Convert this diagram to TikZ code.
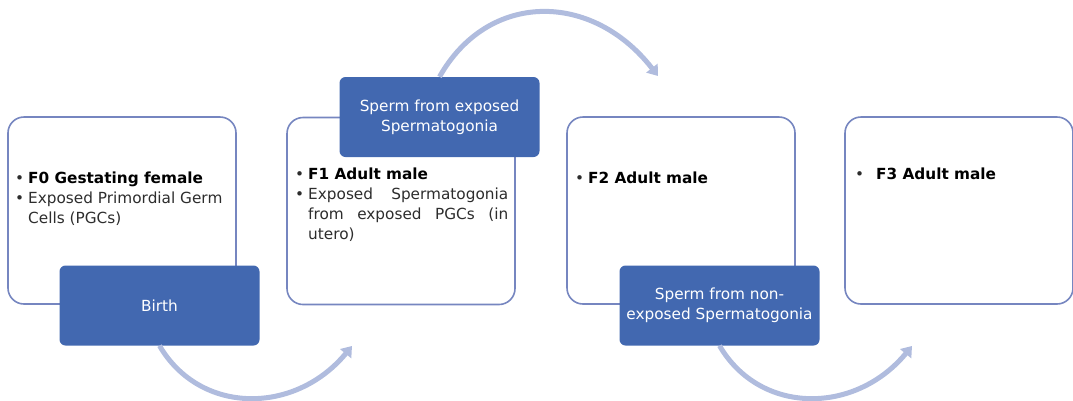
\documentclass[tikz,border=0pt]{standalone}
\usepackage{fontspec}
\setmainfont{DejaVu Sans}
\usetikzlibrary{arrows.meta,positioning}
\definecolor{boxline}{RGB}{118,134,192}
\definecolor{stepfill}{RGB}{66,104,176}
\definecolor{arcblue}{RGB}{176,188,222}
\definecolor{bodytext}{RGB}{45,45,45}
\newcommand{\bulletline}[2][13pt]{\noindent\hangindent=#1\hangafter=1\makebox[#1][l]{\textbullet}#2\par}
\tikzset{
	genbox/.style={draw=boxline, line width=1.6pt, fill=white, rounded corners=16pt,
			minimum width=228pt, minimum height=187pt, inner sep=0pt},
	eventbox/.style={fill=stepfill, rounded corners=6pt, minimum width=200pt,
			minimum height=80pt, text=white, align=center, inner sep=0pt},
	genlabel/.style={anchor=north west, inner sep=0pt, text width=#1, align=justify, text=bodytext},
	cyclearc/.style={draw=arcblue, line width=5pt, -{Triangle[width=14pt,length=10pt]}}
}
\begin{document}
\begin{tikzpicture}[x=1pt, y=-1pt, font=\fontsize{15.3}{20}\selectfont]

			\useasboundingbox (0,0) rectangle (1073,400);

			% Generation boxes
			\node[genbox] (f0) at (122,210.5) {};
			\node[genbox] (f1) at (401,211) {};
			\node[genbox] (f2) at (681,210.5) {};
			\node[genbox] (f3) at (959,210.5) {};

			% Box texts (top of first line)
			\node[genlabel=212pt] (f0text) at (15,171.5)
				{\bulletline{\textcolor{black}{\bfseries F0 Gestating female}}
				 \bulletline{Exposed Primordial Germ\newline Cells (PGCs)}};
			\node[genlabel=213pt] (f1text) at (295,167.5)
				{\bulletline{\textcolor{black}{\bfseries F1 Adult male}}
				 \bulletline{Exposed Spermatogonia\linebreak from exposed PGCs (in\linebreak utero)}};
			\node[genlabel=200pt] (f2text) at (575,171.5)
				{\bulletline{\textcolor{black}{\bfseries F2 Adult male}}};
			\node[genlabel=200pt] (f3text) at (855,167.5)
				{\bulletline[21pt]{\textcolor{black}{\bfseries F3 Adult male}}};

			% Transition boxes
			\node[eventbox] (birth) at (159.5,305.5) {Birth};
			\node[eventbox] (spermA) at (439.5,117) {Sperm from exposed\\Spermatogonia};
			\node[eventbox] (spermB) at (719.5,305.5) {Sperm from non-\\exposed Spermatogonia};

			% Curved arrows
			\coordinate (birthend) at (352,346);
			\coordinate (spermAend) at (658,76);
			\coordinate (spermBend) at (912,346);
			\draw[cyclearc] (birth.south) .. controls (200,415) and (295,415) .. (birthend);
			\draw[cyclearc] (spermA.north) .. controls (488,-9) and (592,-9) .. (spermAend);
			\draw[cyclearc] (spermB.south) .. controls (760,415) and (855,415) .. (spermBend);
		\end{tikzpicture}
\end{document}
